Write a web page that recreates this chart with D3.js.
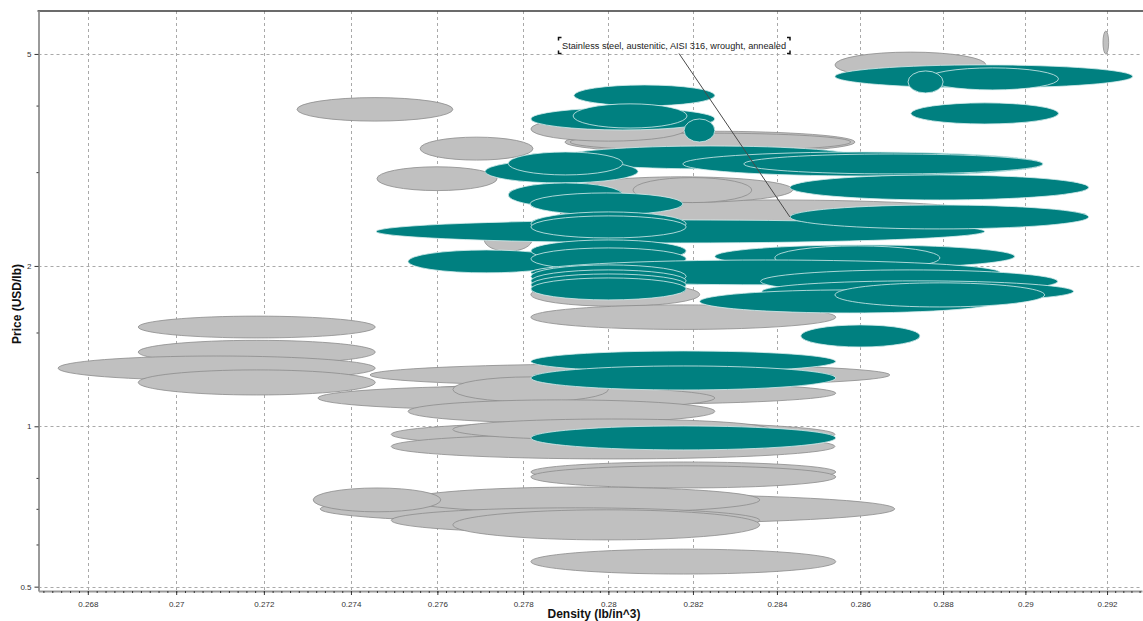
<!DOCTYPE html>
<html>
<head>
<meta charset="utf-8">
<script src="https://cdn.jsdelivr.net/npm/d3@7"></script>
<style>
  html, body { margin: 0; padding: 0; background: #fff; }
  svg { display: block; }
</style>
</head>
<body>
<svg id="chart" width="1143" height="621"></svg>
<script>
// Material bubbles: each one spans a density range (lb/in^3) and a price range (USD/lb).
// Background materials (grey), in drawing order.
const greyDensityLo = [0.29190, 0.28539, 0.27276, 0.27898, 0.27910, 0.27818, 0.27560, 0.27460, 0.27886, 0.27910,
                       0.28058, 0.27709, 0.27818, 0.27818, 0.26914, 0.26914, 0.26733, 0.26914, 0.27444, 0.27532,
                       0.27324, 0.27636, 0.27532, 0.27493, 0.27493, 0.27636, 0.27818, 0.27818, 0.27329, 0.27532,
                       0.27313, 0.27493, 0.27636, 0.27818];
const greyDensityHi = [0.29204, 0.28904, 0.27636, 0.28587, 0.28577, 0.28184, 0.27823, 0.27739, 0.28904, 0.28438,
                       0.28340, 0.27821, 0.28216, 0.28541, 0.27456, 0.27456, 0.27456, 0.27456, 0.28671, 0.28541,
                       0.28252, 0.28000, 0.28252, 0.28539, 0.28539, 0.28383, 0.28541, 0.28541, 0.28683, 0.28359,
                       0.27608, 0.28359, 0.28359, 0.28541];
const greyPriceLo   = [5.00, 4.51, 3.74, 3.26, 3.29, 3.43, 3.16, 2.77, 2.38, 2.63,
                       2.63, 2.13, 1.68, 1.52, 1.465, 1.31, 1.22, 1.145, 1.19, 1.10,
                       1.073, 1.111, 1.015, 0.915, 0.8685, 0.943, 0.786, 0.766, 0.656, 0.688,
                       0.691, 0.631, 0.612, 0.528];
const greyPriceHi   = [5.52, 5.04, 4.14, 3.58, 3.55, 3.81, 3.49, 3.07, 2.66, 2.94,
                       2.93, 2.36, 1.86, 1.69, 1.61, 1.45, 1.355, 1.276, 1.31, 1.21,
                       1.19, 1.238, 1.121, 1.019, 0.9675, 1.032, 0.857, 0.843, 0.7465, 0.769,
                       0.766, 0.703, 0.697, 0.588];

// Selected materials (teal), in drawing order.
const tealDensityLo = [0.28539, 0.28760, 0.28715, 0.28722, 0.27919, 0.27818, 0.27917, 0.28179, 0.27886, 0.27711,
                       0.27765, 0.28176, 0.28321, 0.27765, 0.27816, 0.28431, 0.27458, 0.28431, 0.27818, 0.27818,
                       0.27532, 0.27818, 0.27818, 0.28252, 0.28395, 0.27818, 0.27818, 0.27818, 0.27818, 0.27818,
                       0.28361, 0.28364, 0.28216, 0.28539, 0.28457, 0.27818, 0.27818, 0.27818];
const tealDensityHi = [0.29263, 0.29081, 0.28800, 0.29081, 0.28252, 0.28252, 0.28186, 0.28252, 0.28600, 0.28070,
                       0.28034, 0.29043, 0.29043, 0.28034, 0.28176, 0.29155, 0.28901, 0.29155, 0.28184, 0.28184,
                       0.27898, 0.28184, 0.28184, 0.28974, 0.28792, 0.28938, 0.28184, 0.28184, 0.28184, 0.28184,
                       0.29079, 0.29118, 0.28938, 0.29047, 0.28744, 0.28541, 0.28541, 0.28541];
const tealPriceLo   = [4.317, 4.28, 4.225, 3.694, 3.994, 3.60, 3.63, 3.418, 3.042, 2.863,
                       2.964, 2.951, 2.977, 2.581, 2.494, 2.66, 2.209, 2.347, 2.277, 2.257,
                       1.941, 2.035, 1.966, 1.983, 1.966, 1.843, 1.819, 1.788, 1.757, 1.727,
                       1.78, 1.712, 1.632, 1.675, 1.409, 1.265, 1.17, 0.903];
const tealPriceHi   = [4.769, 4.708, 4.646, 4.047, 4.373, 3.96, 4.03, 3.775, 3.359, 3.162,
                       3.273, 3.273, 3.245, 2.863, 2.742, 2.964, 2.44, 2.603, 2.526, 2.483,
                       2.143, 2.238, 2.162, 2.19, 2.181, 2.052, 2.009, 1.966, 1.932, 1.899,
                       1.966, 1.875, 1.803, 1.859, 1.55, 1.385, 1.298, 1.0015];

// Labelled bubble
const labelText = "Stainless steel, austenitic, AISI 316, wrought, annealed";
const labelIndex = 17;

// Axis ticks
const xTicks = [0.268, 0.270, 0.272, 0.274, 0.276, 0.278, 0.280, 0.282, 0.284, 0.286, 0.288, 0.290, 0.292];
const yTicks = [0.5, 1, 2, 5];
const yMinorTicks = [0.6, 0.7, 0.8, 1.5, 3, 4];
const xTitle = "Density (lb/in^3)";
const yTitle = "Price (USD/lb)";

// ---- layout ----
const W = 1143, H = 621;
const plot = { left: 38.5, right: 1142, top: 11, bottom: 591 };
const TEAL = "#008080", TEAL_EDGE = "#d6ecec";
const GREY = "#c0c0c0", GREY_EDGE = "#8c8c8c";

const svg = d3.select("#chart");

const x = d3.scaleLog().domain([0.26689, 0.29286]).range([plot.left, plot.right]);
const y = d3.scaleLog().domain([0.4907, 6.02]).range([plot.bottom, plot.top]);

svg.append("defs").append("clipPath").attr("id", "plotClip")
  .append("rect")
  .attr("x", plot.left).attr("y", plot.top)
  .attr("width", plot.right - plot.left).attr("height", plot.bottom - plot.top);

// grid
const grid = svg.append("g").attr("stroke", "#a9a9a9").attr("stroke-dasharray", "3,3").attr("stroke-width", 1);
grid.selectAll("line.gx").data(xTicks).join("line")
  .attr("x1", d => Math.round(x(d)) + 0.5).attr("x2", d => Math.round(x(d)) + 0.5)
  .attr("y1", plot.top).attr("y2", plot.bottom);
grid.selectAll("line.gy").data(yTicks).join("line")
  .attr("y1", d => Math.round(y(d)) + 0.5).attr("y2", d => Math.round(y(d)) + 0.5)
  .attr("x1", plot.left).attr("x2", plot.right);

// bubbles
function bubbles(lo, hi, pLo, pHi) {
  return lo.map((d, i) => ({
    cx: (x(lo[i]) + x(hi[i])) / 2,
    rx: (x(hi[i]) - x(lo[i])) / 2,
    cy: (y(pLo[i]) + y(pHi[i])) / 2,
    ry: (y(pLo[i]) - y(pHi[i])) / 2,
    lo: lo[i], pLo: pLo[i], pHi: pHi[i]
  }));
}
const greyData = bubbles(greyDensityLo, greyDensityHi, greyPriceLo, greyPriceHi);
const tealData = bubbles(tealDensityLo, tealDensityHi, tealPriceLo, tealPriceHi);

const marks = svg.append("g").attr("clip-path", "url(#plotClip)");
marks.append("g").selectAll("ellipse").data(greyData).join("ellipse")
  .attr("cx", d => d.cx).attr("cy", d => d.cy).attr("rx", d => d.rx).attr("ry", d => d.ry)
  .attr("fill", GREY).attr("stroke", GREY_EDGE).attr("stroke-width", 0.8);
marks.append("g").selectAll("ellipse").data(tealData).join("ellipse")
  .attr("cx", d => d.cx).attr("cy", d => d.cy).attr("rx", d => d.rx).attr("ry", d => d.ry)
  .attr("fill", TEAL).attr("stroke", TEAL_EDGE).attr("stroke-width", 0.8);

// frame
svg.append("line").attr("x1", plot.left - 1).attr("x2", W).attr("y1", plot.top).attr("y2", plot.top)
  .attr("stroke", "#3a3a3a").attr("stroke-width", 1.5);

// bottom axis
const fmt = d => String(+d.toFixed(3));
const xAxis = svg.append("g").attr("transform", `translate(0,${plot.bottom})`)
  .call(d3.axisBottom(x).tickValues(xTicks).tickFormat(fmt).tickSize(4).tickSizeOuter(0).tickPadding(6));
const xMinor = svg.append("g").attr("transform", `translate(0,${plot.bottom})`)
  .call(d3.axisBottom(x).tickValues(d3.range(0.2670, 0.2929, 0.0002)).tickFormat("").tickSize(2).tickSizeOuter(0));
xMinor.select(".domain").remove();
xAxis.select(".domain").attr("stroke", "#9a9a9a").attr("stroke-width", 2);
xAxis.selectAll(".tick line").attr("stroke", "#333");
xMinor.selectAll(".tick line").attr("stroke", "#333");
xAxis.selectAll("text").attr("font-family", "Liberation Sans, Arial, sans-serif").attr("font-size", 8).attr("fill", "#333");

// left axis
const yAxis = svg.append("g").attr("transform", `translate(${plot.left},0)`)
  .call(d3.axisLeft(y).tickValues(yTicks).tickFormat(d => String(d)).tickSize(4).tickSizeOuter(0).tickPadding(3));
const yMinor = svg.append("g").attr("transform", `translate(${plot.left},0)`)
  .call(d3.axisLeft(y).tickValues(yMinorTicks).tickFormat("").tickSize(2).tickSizeOuter(0));
yMinor.select(".domain").remove();
yAxis.select(".domain").attr("stroke", "#9a9a9a").attr("stroke-width", 2);
yAxis.selectAll(".tick line").attr("stroke", "#333");
yMinor.selectAll(".tick line").attr("stroke", "#333");
yAxis.selectAll("text").attr("font-family", "Liberation Sans, Arial, sans-serif").attr("font-size", 8).attr("fill", "#333");

// titles
svg.append("text").attr("x", 594).attr("y", 618).attr("text-anchor", "middle")
  .attr("font-family", "Liberation Sans, Arial, sans-serif").attr("font-weight", "bold").attr("font-size", 12)
  .attr("fill", "#111").text(xTitle);
svg.append("text").attr("transform", "translate(21,304) rotate(-90)").attr("text-anchor", "middle")
  .attr("font-family", "Liberation Sans, Arial, sans-serif").attr("font-weight", "bold").attr("font-size", 12)
  .attr("fill", "#111").text(yTitle);

// annotation for the labelled bubble
const target = tealData[labelIndex];
const box = { x0: 558.5, x1: 790, y0: 37.5, y1: 53.5 };
svg.append("line")
  .attr("x1", 679).attr("y1", box.y1)
  .attr("x2", x(target.lo)).attr("y2", y(Math.sqrt(target.pLo * target.pHi)))
  .attr("stroke", "#4a4a4a").attr("stroke-width", 1);
svg.append("text").attr("x", 562).attr("y", 48.5)
  .attr("font-family", "Liberation Sans, Arial, sans-serif").attr("font-size", 8.5).attr("fill", "#222")
  .attr("textLength", 224).attr("lengthAdjust", "spacingAndGlyphs")
  .text(labelText);
const c = 3;
const corners = [
  `M${box.x0},${box.y0 + c}V${box.y0}H${box.x0 + c}`,
  `M${box.x1 - c},${box.y0}H${box.x1}V${box.y0 + c}`,
  `M${box.x0},${box.y1 - c}V${box.y1}H${box.x0 + c}`,
  `M${box.x1 - c},${box.y1}H${box.x1}V${box.y1 - c}`
];
svg.append("g").selectAll("path").data(corners).join("path")
  .attr("d", d => d).attr("fill", "none").attr("stroke", "#111").attr("stroke-width", 1.5);
</script>
</body>
</html>
